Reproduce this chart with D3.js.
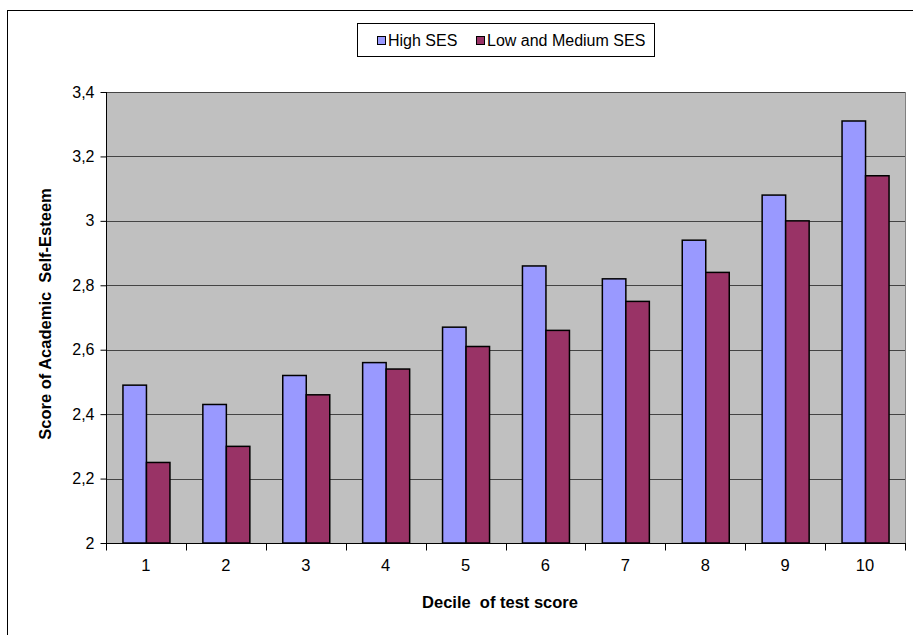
<!DOCTYPE html>
<html><head><meta charset="utf-8">
<script src="https://cdn.jsdelivr.net/npm/d3@7"></script>
<style>body{margin:0;background:#fff;} text{font-family:"Liberation Sans",Arial,sans-serif;}</style>
</head><body>
<svg id="c" width="913" height="635"></svg>
<script>
const categories = ["1","2","3","4","5","6","7","8","9","10"];
const highSES = [2.49, 2.43, 2.52, 2.56, 2.67, 2.86, 2.82, 2.94, 3.08, 3.31];
const lowMedSES = [2.25, 2.30, 2.46, 2.54, 2.61, 2.66, 2.75, 2.84, 3.00, 3.14];
const yTicks = [2, 2.2, 2.4, 2.6, 2.8, 3, 3.2, 3.4];
const seriesNames = ["High SES", "Low and Medium SES"];
const colors = ["#9999FF", "#993366"];

const svg = d3.select("#c");
svg.append("rect").attr("x",7.5).attr("y",10.5).attr("width",920).attr("height",640)
  .attr("fill","#fff").attr("stroke","#000").attr("stroke-width",1);

const L=106, R=905, T=92, B=543;
const x = d3.scaleBand().domain(categories).range([L,R]).paddingInner(0).paddingOuter(0);
const y = d3.scaleLinear().domain([2,3.4]).range([B,T]);

svg.append("rect").attr("x",L).attr("y",T).attr("width",R-L).attr("height",B-T).attr("fill","#C0C0C0");

svg.append("g").selectAll("line").data(yTicks.filter(d=>d>2)).join("line")
  .attr("x1",L).attr("x2",R).attr("y1",d=>Math.round(y(d))+0.5).attr("y2",d=>Math.round(y(d))+0.5)
  .attr("stroke","#444").attr("stroke-width",1);
svg.append("line").attr("x1",R+0.5).attr("x2",R+0.5).attr("y1",T).attr("y2",B).attr("stroke","#808080");

const inner = d3.scaleBand().domain([0,1]).range([0, 47]);
const groups = svg.append("g").selectAll("g").data(categories).join("g")
  .attr("transform", d => `translate(${x(d)+x.bandwidth()/2-23.5},0)`);
groups.selectAll("rect").data((d,i)=>[highSES[i], lowMedSES[i]]).join("rect")
  .attr("x",(d,j)=>inner(j)+0.5).attr("width",inner.bandwidth())
  .attr("y",d=>y(d)).attr("height",d=>B-y(d))
  .attr("fill",(d,j)=>colors[j]).attr("stroke","#000").attr("stroke-width",1.5);

const yAxis = d3.axisLeft(y).tickValues(yTicks).tickSize(6).tickPadding(6)
  .tickFormat(d=>d3.format("")(+d.toFixed(1)).replace(".",","));
const ya = svg.append("g").attr("transform",`translate(${L+0.5},0)`).call(yAxis);
ya.selectAll("text").attr("font-size",16).attr("fill","#000").attr("font-family","Liberation Sans, Arial, sans-serif");
ya.select(".domain").attr("d",`M0,${T}V${B}`).attr("stroke","#000");
ya.selectAll(".tick line").attr("stroke","#000");

const xa = svg.append("g").attr("transform",`translate(0,${B+0.5})`);
xa.append("line").attr("x1",L).attr("x2",R+1).attr("stroke","#000");
xa.selectAll("line.t").data(categories.concat(["end"])).join("line").attr("class","t")
  .attr("x1",(d,i)=>i<categories.length?Math.round(x(d))+0.5:R+0.5)
  .attr("x2",(d,i)=>i<categories.length?Math.round(x(d))+0.5:R+0.5)
  .attr("y1",0).attr("y2",7).attr("stroke","#000");
xa.selectAll("text").data(categories).join("text")
  .attr("x",d=>x(d)+x.bandwidth()/2).attr("y",27).attr("text-anchor","middle")
  .attr("font-size",16.5).text(d=>d);

svg.append("text").attr("x",500).attr("y",608).attr("text-anchor","middle")
  .attr("font-size",16.5).attr("font-weight","bold").attr("xml:space","preserve").text("Decile  of test score");
svg.append("text").attr("transform","translate(51,314) rotate(-90)").attr("text-anchor","middle")
  .attr("font-size",16.5).attr("font-weight","bold").attr("xml:space","preserve").text("Score of Academic  Self-Esteem");

const lg = svg.append("g");
lg.append("rect").attr("x",357.5).attr("y",23.5).attr("width",297).attr("height",33)
  .attr("fill","#fff").attr("stroke","#000").attr("stroke-width",1);
const lx = [377, 476];
seriesNames.forEach((n,i)=>{
  lg.append("rect").attr("x",lx[i]+0.5).attr("y",36.5).attr("width",8).attr("height",8)
    .attr("fill",colors[i]).attr("stroke","#000");
  lg.append("text").attr("x",lx[i]+11).attr("y",46).attr("font-size",16).text(n);
});
</script>
</body></html>
